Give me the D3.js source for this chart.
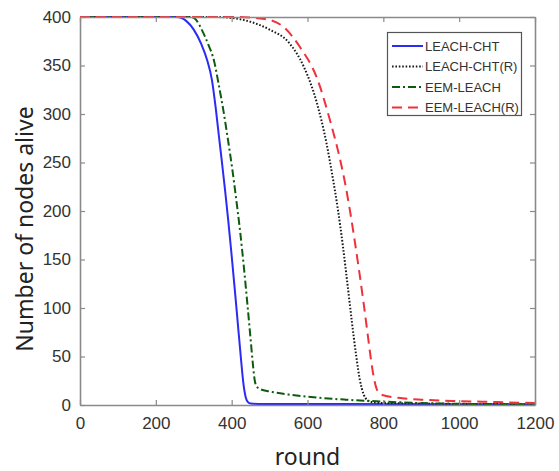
<!DOCTYPE html>
<html>
<head>
<meta charset="utf-8">
<script src="https://cdn.jsdelivr.net/npm/d3@7"></script>
<style>
  body { margin: 0; background: #fff; }
  svg { display: block; }
</style>
</head>
<body>
<svg id="chart" width="559" height="471"></svg>
<script>
var svg = d3.select('#chart')
var margin = { top: 17, right: 24, bottom: 66, left: 80 },
    width = 559 - margin.left - margin.right,
    height = 471 - margin.top - margin.bottom;

var xTicks = [0, 200, 400, 600, 800, 1000, 1200];
var yTicks = [0, 50, 100, 150, 200, 250, 300, 350, 400];

var names = ["LEACH-CHT", "LEACH-CHT(R)", "EEM-LEACH", "EEM-LEACH(R)"];

// LEACH-CHT
var cht_round = [0, 256, 280, 300, 320, 335, 348, 358, 367, 375, 383, 391, 399, 408, 416, 424, 431, 437, 443, 450, 470, 700, 1200];
var cht_alive = [400, 400, 396, 387, 372, 356, 335, 306, 275, 248, 220, 190, 158, 120, 85, 50, 22, 8, 3, 1.5, 1.1, 1, 0.8];

// LEACH-CHT(R)
var chtR_round = [0, 350, 400, 450, 500, 550, 590, 625, 650, 665, 680, 693, 705, 717, 728, 738, 748, 758, 770, 800, 900, 1000, 1200];
var chtR_alive = [400, 400, 399, 395, 387, 374, 349, 311, 270, 238, 202, 165, 126, 86, 52, 26, 11, 5, 3, 2, 1.5, 1, 0.5];

// EEM-LEACH
var eem_round = [0, 294, 310, 321, 338, 354, 366, 378, 390, 401, 412, 422, 432, 441, 449, 456, 461, 466, 475, 500, 550, 600, 700, 800, 900, 1000, 1200];
var eem_alive = [400, 400, 395, 387, 372, 354, 330, 304, 274, 245, 212, 180, 143, 106, 72, 42, 25, 19, 16.5, 14, 10.8, 8.5, 5.5, 3.5, 2, 1.3, 0.5];

// EEM-LEACH(R)
var eemR_round = [0, 420, 460, 500, 536, 580, 624, 659, 686, 700, 713, 725, 737, 748, 758, 767, 775, 782, 790, 800, 850, 900, 1000, 1100, 1200];
var eemR_alive = [400, 400, 399, 397, 390, 369, 338, 294, 253, 227, 198, 168, 136, 105, 75, 48, 28, 17, 12, 10, 7, 5.5, 4, 3, 2];

var series = [
    { name: names[0], r: cht_round, a: cht_alive, color: "#2b2bf5", dash: null },
    { name: names[1], r: chtR_round, a: chtR_alive, color: "#1a1a1a", dash: "1.6,1.8" },
    { name: names[2], r: eem_round, a: eem_alive, color: "#0d5c0d", dash: "8,3,2,3" },
    { name: names[3], r: eemR_round, a: eemR_alive, color: "#f0303a", dash: "10,6" }
];

var x = d3.scaleLinear().domain([0, 1200]).range([0, width]);
var y = d3.scaleLinear().domain([0, 400]).range([height, 0]);

var g = svg.append("g").attr("transform", "translate(" + margin.left + "," + margin.top + ")");

var line = d3.line()
    .x(function (d) { return x(d[0]); })
    .y(function (d) { return y(d[1]); })
    .curve(d3.curveMonotoneX);

g.append("defs").append("clipPath").attr("id", "clip")
    .append("rect").attr("x", -1).attr("y", -2).attr("width", width + 2).attr("height", height + 3);

g.selectAll(".curve")
    .data(series)
    .enter()
    .append("path")
    .attr("class", "curve")
    .attr("clip-path", "url(#clip)")
    .attr("d", function (s) { return line(d3.zip(s.r, s.a)); })
    .attr("fill", "none")
    .attr("stroke", function (s) { return s.color; })
    .attr("stroke-width", 2)
    .attr("stroke-dasharray", function (s) { return s.dash; });

// axes: ticks inside, box all round
var tickFont = "'Liberation Sans', Arial, sans-serif";
var axisColor = "#8a8a8a";

var xAxis = g.append("g").attr("transform", "translate(0," + height + ")")
    .call(d3.axisBottom(x).tickValues(xTicks).tickFormat(d3.format("d")).tickSizeInner(-5).tickSizeOuter(0).tickPadding(12));
var xTop = g.append("g")
    .call(d3.axisTop(x).tickValues(xTicks).tickSizeInner(-5).tickSizeOuter(0).tickFormat(""));
var yAxis = g.append("g")
    .call(d3.axisLeft(y).tickValues(yTicks).tickSizeInner(-5).tickSizeOuter(0).tickPadding(9));
var yRight = g.append("g").attr("transform", "translate(" + width + ",0)")
    .call(d3.axisRight(y).tickValues(yTicks).tickSizeInner(-5).tickSizeOuter(0).tickFormat(""));

[xAxis, xTop, yAxis, yRight].forEach(function (a) {
    a.select(".domain").attr("stroke", axisColor).attr("stroke-width", 1.6);
    a.selectAll(".tick line").attr("stroke", axisColor).attr("stroke-width", 1.2);
    a.selectAll("text")
        .attr("fill", "#333")
        .style("font-family", tickFont)
        .style("font-size", "17px");
});

// axis titles
svg.append('text')
    .attr('x', margin.left + width / 2)
    .attr('y', 465)
    .attr('text-anchor', 'middle')
    .attr('fill', '#222')
    .style('font-family', "'Noto Sans', sans-serif")
    .style('font-size', '23px')
    .text('round')

svg.append('text')
    .attr('x', -229)
    .attr('y', 33)
    .attr('transform', 'rotate(-90)')
    .attr('text-anchor', 'middle')
    .attr('fill', '#222')
    .style('font-family', "'Noto Sans', sans-serif")
    .style('font-size', '23px')
    .text('Number of nodes alive')

// legend
var legend = svg.append("g");
legend.append("rect")
    .attr("x", 387.5)
    .attr("y", 32.5)
    .attr("width", 134)
    .attr("height", 83)
    .attr("fill", "#fff")
    .attr("stroke", "#555")
    .attr("stroke-width", 1.2);

legend.selectAll("line")
    .data(series)
    .enter()
    .append("line")
    .attr("x1", 392)
    .attr("x2", 423)
    .attr("y1", function (d, i) { return 46 + i * 20.5; })
    .attr("y2", function (d, i) { return 46 + i * 20.5; })
    .attr("stroke", function (s) { return s.color; })
    .attr("stroke-width", 2)
    .attr("stroke-dasharray", function (s) { return s.dash; });

legend.selectAll("text")
    .data(series)
    .enter()
    .append("text")
    .attr("x", 425)
    .attr("y", function (d, i) { return 46 + i * 20.5; })
    .attr("dy", "0.36em")
    .attr("fill", "#333")
    .style("font-family", tickFont)
    .style("font-size", "13px")
    .text(function (s) { return s.name; });
</script>
</body>
</html>
